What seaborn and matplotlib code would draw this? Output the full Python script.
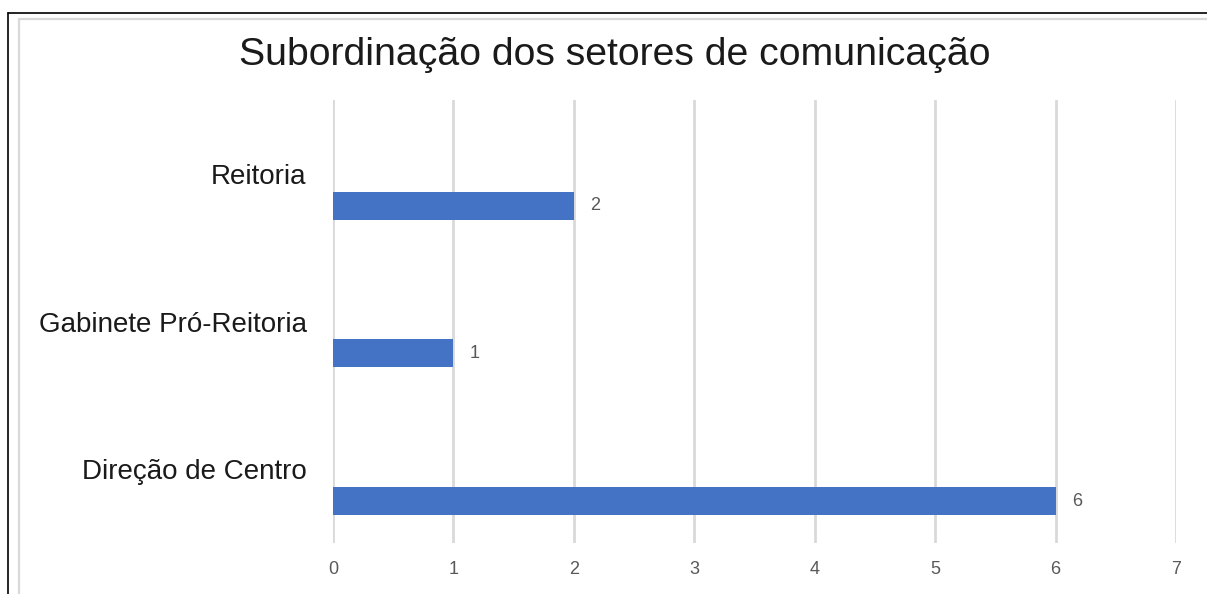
import pandas as pd
import seaborn as sns
import matplotlib.pyplot as plt
from matplotlib.lines import Line2D

# data
categories = ["Reitoria", "Gabinete Pró-Reitoria", "Direção de Centro"]
values = [2, 1, 6]
x_ticks = [0, 1, 2, 3, 4, 5, 6, 7]
title = "Subordinação dos setores de comunicação"

# an empty first series pushes the real bars below the category label (like the Excel original)
df = pd.DataFrame({
    "setor": categories * 2,
    "serie": ["vazio"] * len(categories) + ["total"] * len(categories),
    "valor": [0] * len(categories) + values,
})

sns.set_theme(style="white")
plt.rcParams["font.family"] = ["Liberation Sans", "DejaVu Sans"]

fig = plt.figure(figsize=(12.07, 5.94), dpi=100)
ax = fig.add_axes([0.2759, 0.0859, 0.6984, 0.7457])

sns.barplot(data=df, y="setor", x="valor", hue="serie", order=categories,
            hue_order=["vazio", "total"], palette=["#ffffff", "#4472C4"],
            saturation=1, width=0.865, gap=0.56, linewidth=0, legend=False, ax=ax)

# value labels on the real series only
ax.bar_label(ax.containers[1], labels=[str(v) for v in values], padding=12,
             fontsize=13, color="#595959")

ax.set_xlim(0, 7)
ax.set_xticks(x_ticks)
ax.set_xticklabels([str(t) for t in x_ticks], fontsize=13, color="#595959")
ax.tick_params(axis="x", length=0, pad=13)
ax.tick_params(axis="y", length=0, pad=19, labelsize=20, labelcolor="#1a1a1a")
ax.set_xlabel("")
ax.set_ylabel("")
ax.grid(axis="x", color="#d9d9d9", linewidth=2)
ax.set_axisbelow(True)
for s in ax.spines.values():
    s.set_visible(False)

fig.text(0.5095, 0.907, title, ha="center", va="center", fontsize=28.3, color="#1a1a1a")

# outer frames (cropped screenshot)
W, H = 1207, 594
fig.add_artist(Line2D([8 / W, 8 / W], [0, 1 - 13 / H], transform=fig.transFigure,
                      color="black", linewidth=1.2))
fig.add_artist(Line2D([8 / W, 1], [1 - 13 / H, 1 - 13 / H], transform=fig.transFigure,
                      color="black", linewidth=1.2))
fig.add_artist(Line2D([19 / W, 19 / W], [0, 1 - 19 / H], transform=fig.transFigure,
                      color="#d9d9d9", linewidth=1.6))
fig.add_artist(Line2D([19 / W, 1], [1 - 19 / H, 1 - 19 / H], transform=fig.transFigure,
                      color="#d9d9d9", linewidth=1.6))

fig.savefig("out.png", dpi=100)
